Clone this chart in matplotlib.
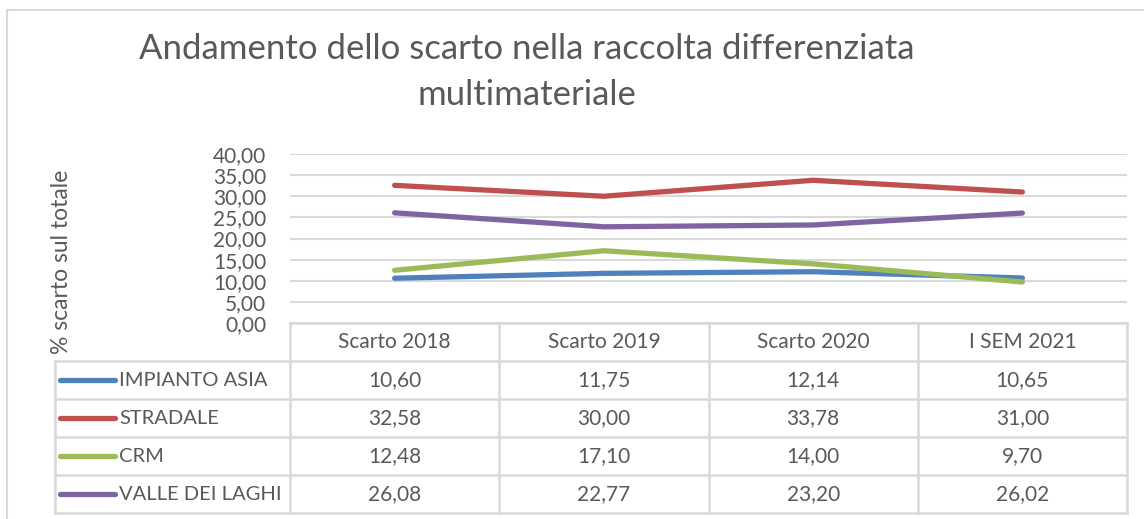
import numpy as np
import matplotlib
matplotlib.use('Agg')
import matplotlib.pyplot as plt
from matplotlib.lines import Line2D

plt.rcParams.update({
    'font.family': ['Lato', 'DejaVu Sans'],
    'text.color': '#595959',
})

categories = ['Scarto 2018', 'Scarto 2019', 'Scarto 2020', 'I SEM 2021']
series_names = ['IMPIANTO ASIA', 'STRADALE', 'CRM', 'VALLE DEI LAGHI']
impianto_asia = [10.60, 11.75, 12.14, 10.65]
stradale = [32.58, 30.00, 33.78, 31.00]
crm = [12.48, 17.10, 14.00, 9.70]
valle_dei_laghi = [26.08, 22.77, 23.20, 26.02]
series_values = [impianto_asia, stradale, crm, valle_dei_laghi]
series_colors = ['#4F81BD', '#C0504D', '#9BBB59', '#8064A2']
yticks = np.arange(0, 41, 5)

W, H = 1144, 519
GRID = '#D9D9D9'


def fmt(v):
    return f"{v:.2f}".replace('.', ',')


fig = plt.figure(figsize=(W / 100, H / 100), dpi=100)

# outer chart border (left and top visible)
fig.add_artist(Line2D([7 / W, 7 / W], [0, 1 - 10 / H], color=GRID, lw=1.5))
fig.add_artist(Line2D([7 / W, 1], [1 - 10 / H, 1 - 10 / H], color=GRID, lw=1.5))

# plot area
x0, x1, ytop, ybot = 290, 1127, 154, 323
ax = fig.add_axes([x0 / W, 1 - ybot / H, (x1 - x0) / W, (ybot - ytop) / H])
xs = np.arange(len(categories))
for vals, col in zip(series_values, series_colors):
    ax.plot(xs, vals, color=col, lw=3.8, solid_capstyle='round', zorder=3)
ax.set_xlim(-0.5, len(categories) - 0.5)
ax.set_ylim(0, 40)
ax.set_yticks(yticks)
ax.set_yticklabels([fmt(v) for v in yticks], fontsize=15, color='#595959')
ax.set_xticks([])
ax.tick_params(axis='y', length=0, pad=17)
ax.grid(axis='y', color=GRID, lw=1.5)
for s in ax.spines.values():
    s.set_visible(False)
ax.patch.set_alpha(0)

fig.text(61 / W, 1 - 262 / H, '% scarto sul totale', rotation=90,
         ha='center', va='center', fontsize=16.5, color='#595959')

fig.text(527 / W, 1 - 49 / H, 'Andamento dello scarto nella raccolta differenziata',
         ha='center', va='center', fontsize=25, color='#595959')
fig.text(527 / W, 1 - 95 / H, 'multimateriale',
         ha='center', va='center', fontsize=25, color='#595959')

# data table
tx0, tbot = 55, 513
col_w = (x1 - x0) / len(categories)
lab_units = (x0 - tx0) / col_w
tax = fig.add_axes([tx0 / W, 1 - tbot / H, (x1 - tx0) / W, (tbot - ybot) / H])
tax.set_xlim(-0.5 - lab_units, len(categories) - 0.5)
n_rows = len(series_names) + 1
tax.set_ylim(n_rows, 0)
tax.axis('off')

lw_t = 1.8
left = -0.5 - lab_units
right = len(categories) - 0.5
# horizontal lines
tax.plot([-0.5, right], [0, 0], color=GRID, lw=lw_t, clip_on=False)
for r in range(1, n_rows + 1):
    tax.plot([left, right], [r, r], color=GRID, lw=lw_t, clip_on=False)
# vertical lines
tax.plot([left, left], [1, n_rows], color=GRID, lw=lw_t, clip_on=False)
for c in range(len(categories) + 1):
    xv = c - 0.5
    tax.plot([xv, xv], [0, n_rows], color=GRID, lw=lw_t, clip_on=False)

for i, cat in enumerate(categories):
    tax.text(i, 0.5, cat, ha='center', va='center', fontsize=15)
for r, (name, vals, col) in enumerate(zip(series_names, series_values, series_colors), start=1):
    key_x0 = left + 5 / col_w
    key_x1 = left + 60 / col_w
    tax.plot([key_x0, key_x1], [r + 0.5, r + 0.5], color=col, lw=3.8,
             solid_capstyle='round', clip_on=False)
    tax.text(left + 64 / col_w, r + 0.5, name, ha='left', va='center', fontsize=14.5)
    for i, v in enumerate(vals):
        tax.text(i, r + 0.5, fmt(v), ha='center', va='center', fontsize=15)

fig.savefig('out.png', dpi=100)
